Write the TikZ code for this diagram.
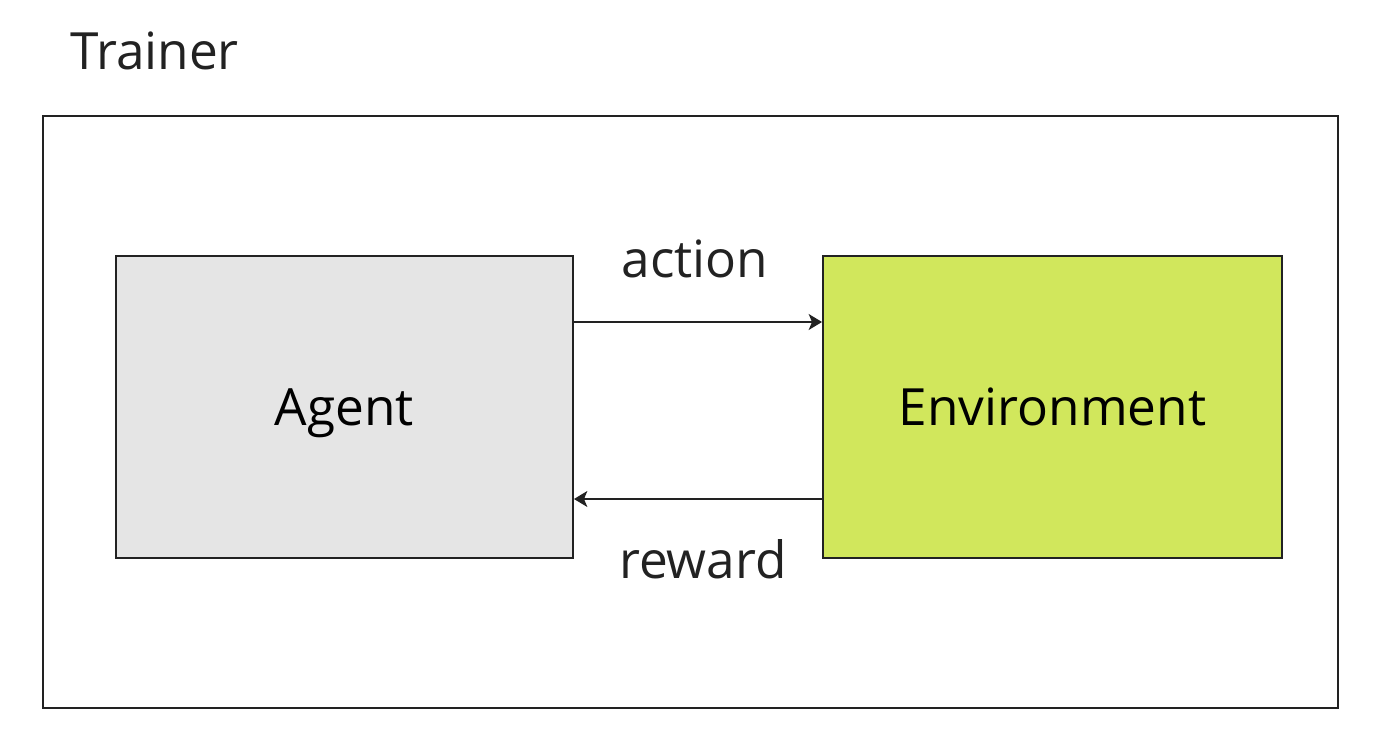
\documentclass[tikz,border=0pt]{standalone}
\usepackage{fontspec}
\setmainfont{Open Sans}
\usepackage{xcolor}
\usetikzlibrary{positioning, arrows.meta}

\definecolor{agentgray}{HTML}{E5E5E5}
\definecolor{envgreen}{HTML}{D1E75C}
\definecolor{inkdark}{HTML}{222222}

\begin{document}
\begin{tikzpicture}[
  x=0.75pt, y=-0.75pt,
  font=\fontsize{38.5}{46}\selectfont,
  >={Stealth[length=10pt,width=12pt,inset=2.5pt]},
  block/.style={
    draw=inkdark, line width=1.5pt, align=center,
    minimum height=226.5pt, inner sep=0pt, text depth=0pt
  },
  agentbox/.style={block, fill=agentgray, minimum width=342.75pt},
  envbox/.style  ={block, fill=envgreen, minimum width=344.25pt},
  flow/.style    ={->, draw=inkdark, line width=1.1pt},
  caption/.style ={inner sep=0pt, text=inkdark},
]
\useasboundingbox (0,0) rectangle (1384,756);

% outer frame and its title
\node[draw=inkdark, line width=1.5pt, minimum width=971.25pt,
      minimum height=444pt, inner sep=0pt] (trainer) at (690.5,412) {};
\node[caption, anchor=base west] (title) at (70,70) {Trainer};

\node[agentbox] (agent) at (344.5,407) {Agent};
\node[envbox]   (env)   at (1052.5,407) {Environment};

\draw[flow] ([yshift=63.75pt]agent.east) -- ([yshift=63.75pt]env.west);
\draw[flow] ([yshift=-69pt]env.west) -- ([yshift=-69pt]agent.east);

\node[caption, anchor=base] (action) at (695,277) {action};
\node[caption, anchor=base] (reward) at (703,578) {reward};

\end{tikzpicture}
\end{document}
